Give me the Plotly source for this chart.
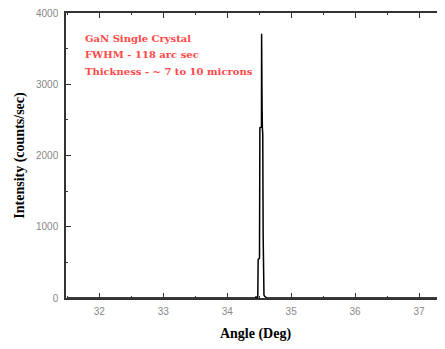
import plotly.graph_objects as go

# Data (Angle in degrees, Intensity in counts/sec)
angle = [31.5, 34.0, 34.44, 34.45, 34.46, 34.478, 34.484, 34.505, 34.511, 34.536, 34.538,
         34.545, 34.55, 34.556, 34.562, 34.568, 34.575, 34.585, 34.6, 34.62, 35.0, 37.5]
intensity = [0, 0, 0, 20, 0, 10, 540, 560, 2390, 2400, 3710,
             2710, 2390, 2300, 890, 120, 40, 25, 10, 0, 0, 0]

x_ticks = [32, 33, 34, 35, 36, 37]
y_ticks = [0, 1000, 2000, 3000, 4000]

notes = ["GaN Single Crystal", "FWHM - 118 arc sec", "Thickness - ~ 7 to 10 microns"]
note_y = [0.909, 0.853, 0.796]

fig = go.Figure()
fig.add_trace(go.Scatter(x=angle, y=intensity, mode="lines",
                         line=dict(color="black", width=1.5), showlegend=False))

for t, yy in zip(notes, note_y):
    fig.add_annotation(text=t, xref="paper", yref="paper", x=0.045, y=yy,
                       xanchor="left", yanchor="middle", showarrow=False,
                       font=dict(family="DejaVu Serif", size=10, color="#ff4848", weight="bold"))

axis_common = dict(showgrid=False, zeroline=False, showline=True, linecolor="#333333",
                   linewidth=1.5, ticks="inside", tickcolor="#333333", ticklen=5, tickwidth=1.2,
                   automargin=False, ticklabeloverflow="allow",
                   tickfont=dict(family="Liberation Sans", size=10, color="#888888"))

fig.update_layout(
    width=437, height=341,
    margin=dict(l=58, r=0, t=5, b=51),
    paper_bgcolor="white", plot_bgcolor="white",
    xaxis=dict(range=[31.479, 37.406], tickvals=x_ticks, mirror="allticks",
               minor=dict(dtick=0.5, ticks="inside", ticklen=2, tickcolor="#333333"),
               ticklabelstandoff=3,
               title=dict(text="Angle (Deg)", standoff=12,
                          font=dict(family="Liberation Serif", size=14, color="black", weight="bold")),
               **axis_common),
    yaxis=dict(range=[0, 4000], tickvals=y_ticks, mirror=False,
               minor=dict(dtick=500, ticks="inside", ticklen=2, tickcolor="#333333"),
               ticklabelstandoff=4,
               title=dict(text="Intensity (counts/sec)", standoff=8,
                          font=dict(family="Liberation Serif", size=14, color="black", weight="bold")),
               **axis_common),
)

fig.write_html("out.html")
